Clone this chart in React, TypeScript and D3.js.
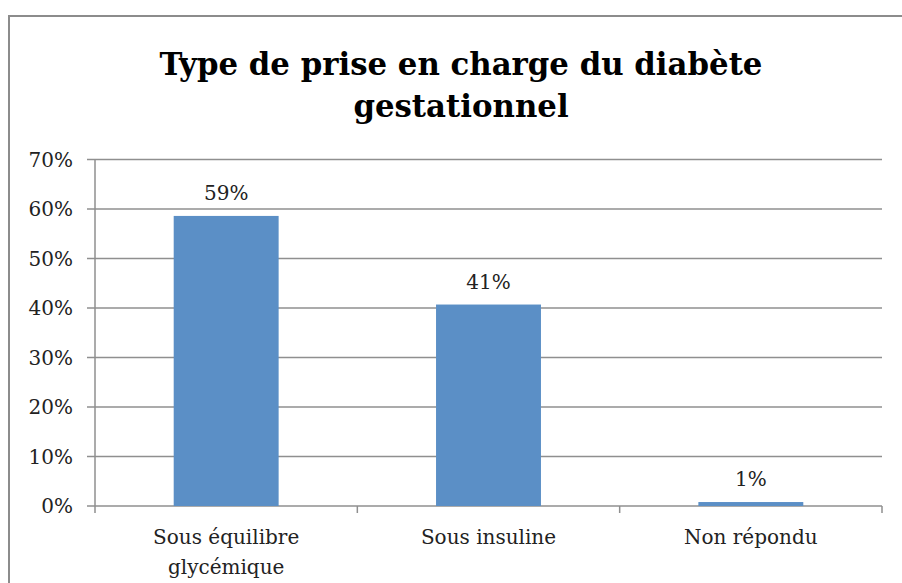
import React from "react";
import * as d3 from "d3";

const categories: string[][] = [["Sous équilibre", "glycémique"], ["Sous insuline"], ["Non répondu"]];
const values: number[] = [0.586, 0.407, 0.008];
const valueLabels: string[] = ["59%", "41%", "1%"];
const yTicks: number[] = [0, 0.1, 0.2, 0.3, 0.4, 0.5, 0.6, 0.7];
const titleLines: string[] = ["Type de prise en charge du diabète", "gestationnel"];

const W = 902;
const H = 583;
const plotLeft = 95;
const plotRight = 882;
const plotTop = 159.5;
const plotBottom = 506;

export default function App() {
  const x = d3
    .scaleBand<number>()
    .domain(categories.map((_, i) => i))
    .range([plotLeft, plotRight])
    .paddingInner(0.6)
    .paddingOuter(0.3);
  const y = d3.scaleLinear().domain([0, 0.7]).range([plotBottom, plotTop]);
  const band = (plotRight - plotLeft) / categories.length;
  const fmt = d3.format(".0%");
  const serif = "'DejaVu Serif', serif";
  const grid = "#8f8f8f";

  return (
    <svg width={W} height={H} style={{ position: "absolute", left: 0, top: 0, background: "#fff" }}>
      <rect x={9} y={16} width={W} height={H} fill="#fff" stroke="#8c8c8c" strokeWidth={2} />
      <g fontFamily={serif} fontWeight="bold" fontSize={30.8} textAnchor="middle" fill="#000">
        <text x={461} y={75}>{titleLines[0]}</text>
        <text x={461} y={117}>{titleLines[1]}</text>
      </g>
      {yTicks.map((t) => (
        <g key={t}>
          <line x1={plotLeft - 8} x2={plotRight} y1={y(t)} y2={y(t)} stroke={grid} strokeWidth={1.5} />
          <text x={73} y={y(t)} dy="0.36em" textAnchor="end" fontFamily={serif} fontSize={20} fill="#222">
            {fmt(t)}
          </text>
        </g>
      ))}
      <line x1={plotLeft} x2={plotLeft} y1={plotTop} y2={plotBottom} stroke={grid} strokeWidth={1.5} />
      {d3.range(categories.length + 1).map((i) => (
        <line key={i} x1={plotLeft + i * band} x2={plotLeft + i * band} y1={plotBottom} y2={plotBottom + 7} stroke={grid} strokeWidth={1.5} />
      ))}
      {values.map((v, i) => (
        <g key={i}>
          <rect x={x(i)!} y={y(v)} width={x.bandwidth()} height={plotBottom - y(v)} fill="#5b8fc6" />
          <text x={x(i)! + x.bandwidth() / 2} y={y(v) - 16} textAnchor="middle" fontFamily={serif} fontSize={20} fill="#222">
            {valueLabels[i]}
          </text>
        </g>
      ))}
      {categories.map((lines, i) => (
        <text key={i} textAnchor="middle" fontFamily={serif} fontSize={20} fill="#222">
          {lines.map((l, j) => (
            <tspan key={j} x={plotLeft + band * (i + 0.5)} y={544 + j * 30}>
              {l}
            </tspan>
          ))}
        </text>
      ))}
    </svg>
  );
}
